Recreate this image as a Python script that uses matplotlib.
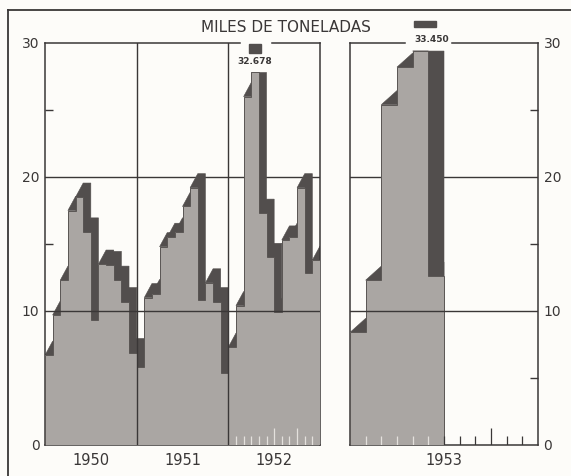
import numpy as np
import matplotlib.pyplot as plt
from matplotlib.patches import Polygon, Rectangle
from matplotlib.lines import Line2D

# Toneladas mensuales (miles)
v1950 = [6.7, 9.7, 12.3, 17.5, 18.5, 15.9, 9.3, 13.5, 13.4, 12.3, 10.7, 6.9]
v1951 = [5.8, 11.0, 11.3, 14.8, 15.5, 15.9, 17.8, 19.2, 10.8, 12.1, 10.7, 5.4]
v1952 = [7.3, 10.4, 26.0, 32.678, 17.3, 14.0, 9.9, 15.3, 15.5, 19.2, 12.8, 13.8]
v1953 = [8.4, 12.3, 25.4, 28.2, 33.450, 12.6]
years_left = ['1950', '1951', '1952']
year_right = '1953'

FRONT = '#aaa6a3'
SIDE = '#524e4d'
INK = '#3a3737'
BG = '#fdfcf9'

W, H = 571, 476
fig = plt.figure(figsize=(W / 100, H / 100), dpi=100, facecolor=BG)


def px(x0, y0, x1, y1):
    return [x0 / W, 1 - y1 / H, (x1 - x0) / W, (y1 - y0) / H]


def draw_steps(ax, vals, cap, w=1.0, dy=1.05):
    vals = np.minimum(np.asarray(vals, float), cap)
    n = len(vals)
    # caras laterales y superiores (oscuras)
    for i, v in enumerate(vals):
        top = min(v + dy, cap)
        if i < n - 1:
            pts = [(i, v), (i + w * (top - v) / dy, top), (i + 1 + w, top),
                   (i + 1 + w, dy), (i + 1, 0), (i + 1, v)]
        else:
            pts = [(i, v), (i + 1, v + dy), (i + 1, v)]
        ax.add_patch(Polygon(pts, closed=True, fc=SIDE, ec=SIDE, lw=0.4, zorder=2))
    edges = np.arange(n + 1)
    ax.stairs(vals, edges, fill=True, color=FRONT, baseline=0, zorder=3)
    ax.stairs(vals, edges, fill=False, color='#5a5654', lw=0.7, baseline=0, zorder=3.5)


def style(ax, nmonths, side):
    ax.set_facecolor(BG)
    ax.set_xlim(0, nmonths)
    ax.set_ylim(0, 30)
    ax.spines['top'].set_visible(False)
    for s in ['left', 'right', 'bottom']:
        ax.spines[s].set_color(INK)
        ax.spines[s].set_linewidth(1.1)
    ax.axhline(20, color=INK, lw=1.0, zorder=1)
    ax.axhline(10, color=INK, lw=1.0, zorder=5)
    ax.set_yticks([0, 10, 20, 30])
    ax.set_yticks([5, 15, 25], minor=True)
    ax.tick_params(axis='y', which='major', length=0, labelsize=10, colors=INK, pad=4)
    ax.tick_params(axis='y', which='minor', direction='in', length=6, width=1, color=INK)
    ax.tick_params(axis='x', length=0, labelsize=10.5, colors=INK, pad=6)
    if side == 'right':
        ax.yaxis.tick_right()
        ax.tick_params(axis='y', which='both', left=False)
    else:
        ax.tick_params(axis='y', which='both', right=False)


# ---- panel izquierdo 1950-1952
ax1 = fig.add_axes(px(45, 43, 320, 445))
left_vals = v1950 + v1951 + v1952
cap1 = 27.8
draw_steps(ax1, left_vals, cap1)
style(ax1, 36, 'left')
ax1.axvline(12, color=INK, lw=1.0, zorder=5)
ax1.axvline(24, color=INK, lw=1.0, zorder=5)
ax1.set_xticks([6, 18, 30])
ax1.set_xticklabels(years_left)
ax1.plot([0, 25.5], [30, 30], color=INK, lw=1.1, clip_on=False, zorder=6)
ax1.plot([29.7, 36], [30, 30], color=INK, lw=1.1, clip_on=False, zorder=6)
for k in range(25, 36):
    h = 1.3 if k in (30, 33) else 0.7
    ax1.vlines(k, 0, h, color='#e4e1dd', lw=0.9, zorder=4)
i_max = int(np.argmax(left_vals))
ax1.add_patch(Rectangle((i_max - 0.3, 29.25), 1.6, 0.65, fc=SIDE, ec=SIDE,
                        clip_on=False, zorder=6))
ax1.text(i_max + 0.5, 28.6, f'{left_vals[i_max]:.3f}', ha='center', va='center',
         fontsize=6.5, fontweight='bold', color=INK, zorder=6)

# ---- panel derecho 1953
ax2 = fig.add_axes(px(350, 43, 538, 445))
cap2 = 29.4
draw_steps(ax2, v1953, cap2)
style(ax2, 12, 'right')
ax2.set_xticks([6])
ax2.set_xticklabels([year_right])
ax2.plot([0, 3.5], [30, 30], color=INK, lw=1.1, clip_on=False, zorder=6)
ax2.plot([6.5, 12], [30, 30], color=INK, lw=1.1, clip_on=False, zorder=6)
for k in range(1, 12):
    h = 1.3 if k == 9 else 0.7
    c = '#e4e1dd' if k < len(v1953) else INK
    ax2.vlines(k, 0, h, color=c, lw=0.9, zorder=4)
j_max = int(np.argmax(v1953))
ax2.add_patch(Rectangle((j_max + 0.1, 31.2), 1.4, 0.45, fc=SIDE, ec=SIDE,
                        clip_on=False, zorder=6))
ax2.text(j_max + 1.2, 30.25, f'{v1953[j_max]:.3f}', ha='center', va='center',
         fontsize=6.5, fontweight='bold', color=INK, zorder=6)

# ---- marco y título
fig.add_artist(Line2D([8 / W, 8 / W], [0, 1 - 10 / H], color=INK, lw=1.3))
fig.add_artist(Line2D([8 / W, 1], [1 - 10 / H, 1 - 10 / H], color=INK, lw=1.3))
fig.text(0.5, 1 - 27 / H, 'MILES DE TONELADAS', ha='center', va='center',
         fontsize=11, color=INK)

fig.savefig('out.png', dpi=100, facecolor=BG)
